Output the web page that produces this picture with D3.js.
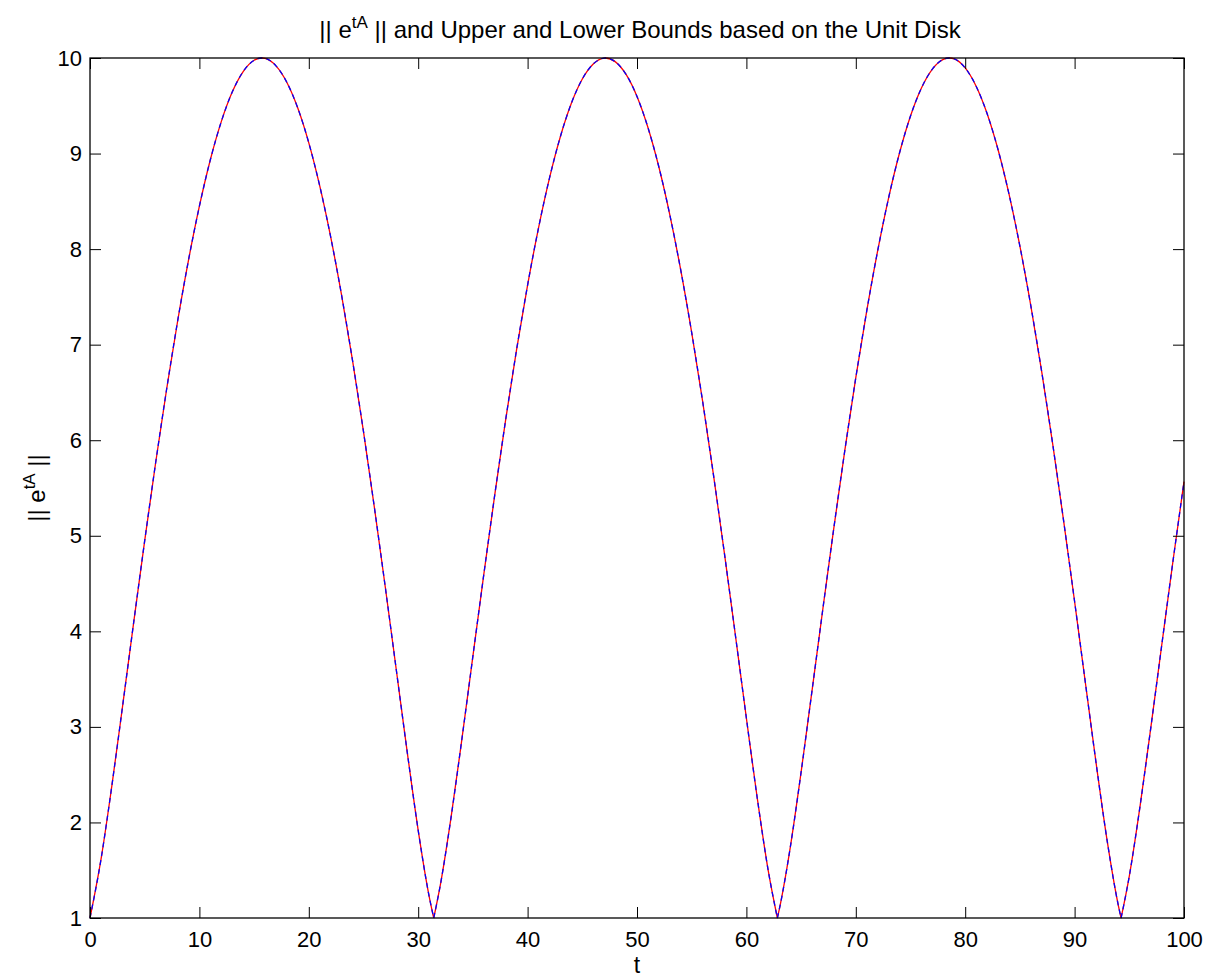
<!DOCTYPE html>
<html><head><meta charset="utf-8">
<script src="https://cdn.jsdelivr.net/npm/d3@7"></script>
<style>
body{margin:0;background:#fff;}
text{font-family:"Liberation Sans",Arial,Helvetica,sans-serif;fill:#000;}
</style></head>
<body>
<svg id="chart" width="1212" height="980"></svg>
<script>
// t values (x)
const tValues = [0,1,2,3,4,5,6,7,8,9,10,11,12,13,14,15,15.71,16,17,18,19,20,21,22,23,24,25,26,27,28,29,30,31,31.42,32,33,34,35,36,37,38,39,40,41,42,43,44,45,46,47,47.12,48,49,50,51,52,53,54,55,56,57,58,59,60,61,62,62.83,63,64,65,66,67,68,69,70,71,72,73,74,75,76,77,78,78.54,79,80,81,82,83,84,85,86,87,88,89,90,91,92,93,94,94.25,95,96,97,98,99,100];
// ||e^{tA}|| (red, solid)
const normValues = [1.000,1.610,2.386,3.235,4.099,4.949,5.764,6.531,7.240,7.882,8.449,8.935,9.334,9.643,9.858,9.976,10.000,9.996,9.918,9.744,9.474,9.112,8.661,8.127,7.516,6.833,6.089,5.292,4.456,3.595,2.734,1.918,1.227,1.000,1.330,2.050,2.877,3.740,4.598,5.430,6.218,6.953,7.624,8.223,8.743,9.179,9.526,9.780,9.938,9.999,10.000,9.962,9.828,9.598,9.273,8.859,8.359,7.779,7.125,6.406,5.630,4.808,3.954,3.090,2.248,1.493,1.000,1.087,1.731,2.526,3.380,4.244,5.088,5.896,6.655,7.353,7.983,8.537,9.008,9.393,9.686,9.884,9.986,10.000,9.990,9.896,9.705,9.419,9.042,8.577,8.030,7.406,6.712,5.959,5.154,4.312,3.449,2.592,1.791,1.130,1.000,1.439,2.184,3.021,3.886,4.741,5.566];
// bound (blue, dashed) — coincides with the norm curve
const boundValues = normValues.slice();
// cusps (curve minima) where the line breaks sharply
const cuspT = [31.42,62.83,94.25];
const xTicks = [0,10,20,30,40,50,60,70,80,90,100];
const yTicks = [1,2,3,4,5,6,7,8,9,10];

const svg = d3.select("#chart");
const L = 90, R = 1184, T = 58, B = 918;
const x = d3.scaleLinear().domain([0,100]).range([L,R]);
const y = d3.scaleLinear().domain([1,10]).range([B,T]);
const tickLen = 11;

// split into arches at the cusps, each drawn smoothly
function pathFor(vals){
  const pts = tValues.map((t,i)=>[t,vals[i]]);
  const segs = [];
  let cur = [];
  pts.forEach(p=>{
    cur.push(p);
    if (cuspT.includes(p[0])) { segs.push(cur); cur=[p]; }
  });
  if (cur.length>1) segs.push(cur);
  const ln = d3.line().x(d=>x(d[0])).y(d=>y(d[1])).curve(d3.curveMonotoneX);
  return segs.map(s=>ln(s)).join("");
}

const g = svg.append("g");
g.append("path").attr("d",pathFor(normValues))
  .attr("fill","none").attr("stroke","#ff0000").attr("stroke-width",1.3);
g.append("path").attr("d",pathFor(boundValues))
  .attr("fill","none").attr("stroke","#0000ff").attr("stroke-width",1.3)
  .attr("stroke-dasharray","5,4");

// axes (ticks inside, mirrored)
const xAxisB = d3.axisBottom(x).tickValues(xTicks).tickSizeInner(-tickLen).tickSizeOuter(0).tickPadding(13);
const xAxisT = d3.axisTop(x).tickValues(xTicks).tickSizeInner(-tickLen).tickSizeOuter(0).tickFormat("");
const yAxisL = d3.axisLeft(y).tickValues(yTicks).tickSizeInner(-tickLen).tickSizeOuter(0).tickPadding(8);
const yAxisR = d3.axisRight(y).tickValues(yTicks).tickSizeInner(-tickLen).tickSizeOuter(0).tickFormat("");

function style(sel){
  sel.select(".domain").remove();
  sel.selectAll("line").attr("stroke","#000").attr("stroke-width",1);
  sel.selectAll("text").attr("font-size","22px").attr("fill","#000")
    .style("font-family","'Liberation Sans',Arial,sans-serif");
}
svg.append("g").attr("transform",`translate(0,${B})`).call(xAxisB).call(style);
svg.append("g").attr("transform",`translate(0,${T})`).call(xAxisT).call(style);
svg.append("g").attr("transform",`translate(${L},0)`).call(yAxisL).call(style);
svg.append("g").attr("transform",`translate(${R},0)`).call(yAxisR).call(style);

// box
svg.append("rect").attr("x",L).attr("y",T).attr("width",R-L).attr("height",B-T)
  .attr("fill","none").attr("stroke","#000").attr("stroke-width",1.3);

// title
const title = svg.append("text").attr("x",(L+R)/2+3).attr("y",38)
  .attr("text-anchor","middle").attr("font-size","24px");
title.append("tspan").text("|| e");
title.append("tspan").attr("dy",-10).attr("font-size","17px").text("tA");
title.append("tspan").attr("dy",10).text(" || and Upper and Lower Bounds based on the Unit Disk");

// x label
svg.append("text").attr("x",(L+R)/2).attr("y",973).attr("text-anchor","middle")
  .attr("font-size","23px").text("t");

// y label
const yl = svg.append("text").attr("transform",`translate(45,${(T+B)/2}) rotate(-90)`)
  .attr("text-anchor","middle").attr("font-size","24px");
yl.append("tspan").text("|| e");
yl.append("tspan").attr("dy",-10).attr("font-size","17px").text("tA");
yl.append("tspan").attr("dy",10).text(" ||");
</script>
</body></html>
